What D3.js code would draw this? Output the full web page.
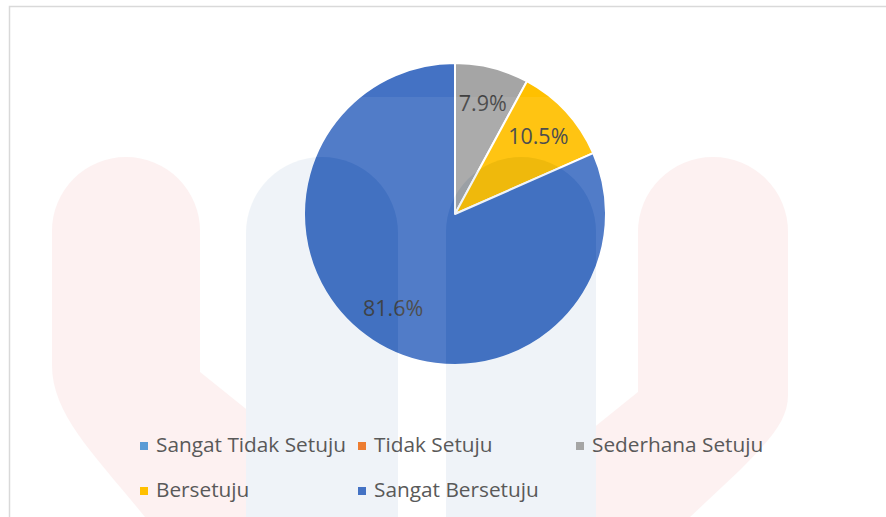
<!DOCTYPE html>
<html>
<head>
<meta charset="utf-8">
<script src="https://cdn.jsdelivr.net/npm/d3@7"></script>
<style>
  html, body { margin: 0; padding: 0; background: #ffffff; }
  svg { display: block; }
  text { font-family: "Open Sans", "Noto Sans", sans-serif; }
</style>
</head>
<body>
<svg id="chart" width="886" height="517"></svg>
<script>
// ---- data ----
const categories = ["Sangat Tidak Setuju", "Tidak Setuju", "Sederhana Setuju", "Bersetuju", "Sangat Bersetuju"];
const values = [0, 0, 7.9, 10.5, 81.6];
const colors = ["#5B9BD5", "#ED7D31", "#A5A5A5", "#FFC000", "#4472C4"];

// ---- layout ----
const W = 886, H = 517;
const cx = 455, cy = 214, R = 151;

const svg = d3.select("#chart");

// chart frame
svg.append("rect")
  .attr("x", 9.5).attr("y", 6.5)
  .attr("width", 1000).attr("height", 1000)
  .attr("fill", "#ffffff")
  .attr("stroke", "#d9d9d9").attr("stroke-width", 1.5);

// pie
const pie = d3.pie().sort(null).value(d => d.value);
const data = categories.map((c, i) => ({ name: c, value: values[i], color: colors[i] }));
const arcs = pie(data);
const arc = d3.arc().innerRadius(0).outerRadius(R);
const labelArc = d3.arc().innerRadius(R * 0.75).outerRadius(R * 0.75);

const g = svg.append("g").attr("transform", `translate(${cx},${cy})`);
g.selectAll("path.slice")
  .data(arcs.filter(d => d.data.value > 0))
  .join("path")
  .attr("class", "slice")
  .attr("d", arc)
  .attr("fill", d => d.data.color)
  .attr("stroke", "#ffffff")
  .attr("stroke-width", 2)
  .attr("stroke-linejoin", "round");

// faint background watermark (decoration, drawn as a translucent layer)
const wm = svg.append("g").attr("opacity", 0.07);
wm.append("rect").attr("x", 10).attr("y", 97).attr("width", W).attr("height", H)
  .attr("fill", "#ffffff");
wm.append("path")
  .attr("d", "M52,231 A74,74 0 0 1 200,231 L200,372 L380,517 L145,517 C95,455 52,415 52,365 Z")
  .attr("fill", "rgb(230,67,67)");
wm.append("path")
  .attr("d", "M638,232 A75,75 0 0 1 788,232 L788,395 C788,420 770,440 740,470 L690,517 L483,517 L638,392 Z")
  .attr("fill", "rgb(230,67,67)");
wm.append("path")
  .attr("d", "M246,233 A76,76 0 0 1 398,233 L398,517 L246,517 Z")
  .attr("fill", "rgb(42,105,167)");
wm.append("path")
  .attr("d", "M446,232 A75,75 0 0 1 596,232 L596,517 L446,517 Z")
  .attr("fill", "rgb(42,105,167)");

// data labels
const fmt = d3.format(".1f");
g.selectAll("text.lbl")
  .data(arcs.filter(d => d.data.value > 0))
  .join("text")
  .attr("class", "lbl")
  .attr("transform", d => `translate(${labelArc.centroid(d)})`)
  .attr("text-anchor", "middle")
  .attr("dy", "0.33em")
  .attr("font-size", 21.5)
  .attr("fill", "#404040")
  .text(d => fmt(d.data.value) + "%");

// legend
const legX0 = 140, legY0 = 442, colStep = 218, rowStep = 45;
const leg = svg.append("g");
const items = leg.selectAll("g.item")
  .data(data)
  .join("g")
  .attr("class", "item")
  .attr("transform", (d, i) => `translate(${legX0 + (i % 3) * colStep},${legY0 + Math.floor(i / 3) * rowStep})`);
items.append("rect")
  .attr("width", 8).attr("height", 8)
  .attr("fill", d => d.color);
items.append("text")
  .attr("x", 16).attr("y", 10)
  .attr("font-size", 20.8)
  .attr("fill", "#595959")
  .text(d => d.name);
</script>
</body>
</html>
